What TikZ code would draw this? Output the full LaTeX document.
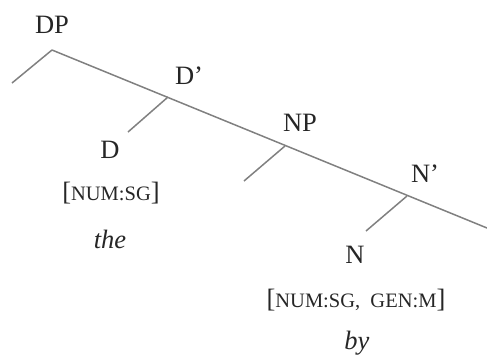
\documentclass[tikz,border=0pt]{standalone}
\usepackage{fontspec}
\setmainfont{Liberation Serif}
\newcommand{\smcap}[1]{{\fontsize{20.5}{24}\selectfont #1}}

\begin{document}
\begin{tikzpicture}[x=1pt,y=-1pt,
  branch/.style={draw=black!50, line width=1.5pt},
  lbl/.style={inner sep=0pt, text=black!85, font=\fontsize{26.5}{30}\selectfont}]
\useasboundingbox (0,0) rectangle (487,357);

% branching points
\coordinate (dpv) at (52,50);
\coordinate (dbarv) at (168,97);
\coordinate (npv) at (285,146);
\coordinate (nbarv) at (407,196);
\coordinate (rend) at (487,228);
\coordinate (specdp) at (12,83);
\coordinate (dleaf) at (128,132);
\coordinate (specnp) at (244,181);
\coordinate (nleaf) at (366,231);

% labels
\node[lbl] (dp) at (52,25) {DP};
\node[lbl] (dbar) at (189,76) {D’};
\node[lbl] (d) at (110,150) {D};
\node[lbl] (dfeat) at (111,193) {[\smcap{NUM:SG}]};
\node[lbl] (the) at (110,239) {\textit{the}};
\node[lbl] (np) at (300,123) {NP};
\node[lbl] (nbar) at (425,174) {N’};
\node[lbl] (n) at (355,255) {N};
\node[lbl] (nfeat) at (356,300) {[\smcap{NUM:SG,\ \ GEN:M}]};
\node[lbl] (by) at (357,343) {\textit{by}};

\draw[branch] (dpv) -- (rend);
\draw[branch] (dpv) -- (specdp);
\draw[branch] (dbarv) -- (dleaf);
\draw[branch] (npv) -- (specnp);
\draw[branch] (nbarv) -- (nleaf);
\end{tikzpicture}
\end{document}
